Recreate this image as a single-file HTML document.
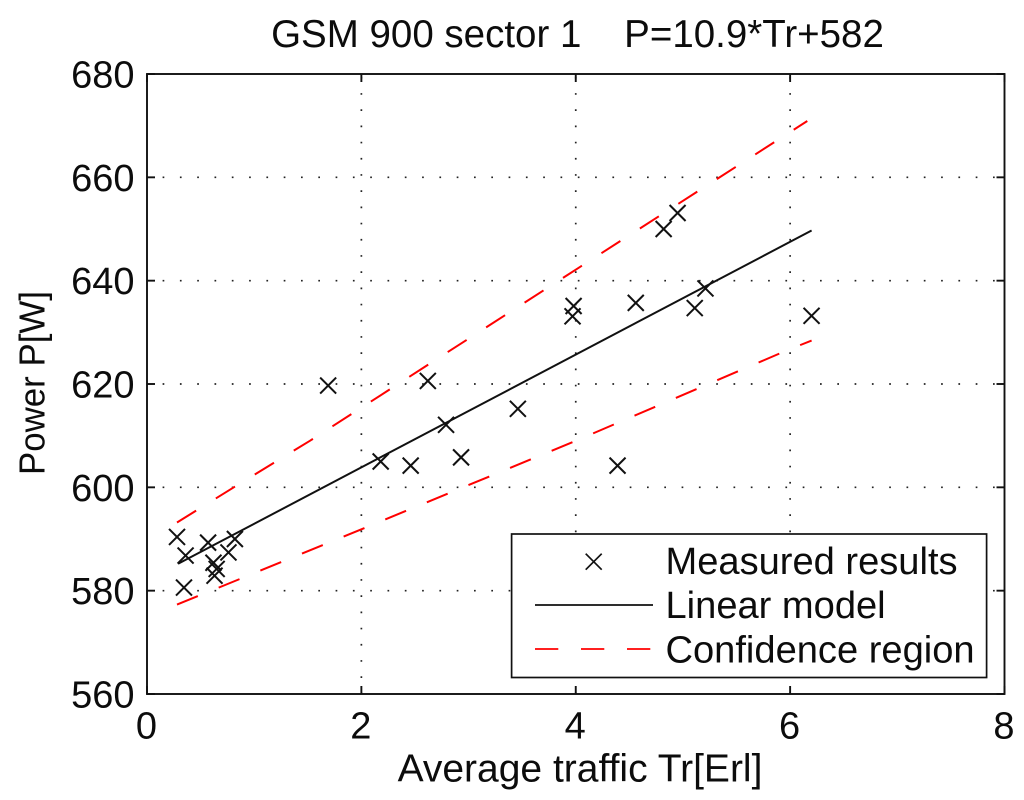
<!DOCTYPE html>
<html lang="en">
<head>
<meta charset="utf-8">
<title>GSM 900 sector 1</title>
<style>
  html, body { margin: 0; padding: 0; background: #fff; }
  svg { display: block; font-family: "Liberation Sans", Arial, sans-serif; }
  text { fill: #0c0c0c; }
</style>
</head>
<body>
<svg id="chart" width="1024" height="800" viewBox="0 0 1024 800" xmlns="http://www.w3.org/2000/svg">
  <rect width="1024" height="800" fill="#fff"/>
  <text x="577.5" y="47" font-size="38.5" text-anchor="middle" xml:space="preserve">GSM 900 sector 1    P=10.9*Tr+582</text>
  <g id="grid"></g>
  <g id="marks"></g>
  <g id="axes"></g>
  <text x="580" y="781.5" font-size="39" text-anchor="middle">Average traffic Tr[Erl]</text>
  <text transform="translate(44.5 383) rotate(-90)" font-size="36.5" text-anchor="middle" textLength="184" lengthAdjust="spacingAndGlyphs">Power P[W]</text>
  <g>
    <rect x="511.6" y="534" width="475" height="143.5" fill="#fff" stroke="#111" stroke-width="1.7"/>
    <g stroke="#111" stroke-width="1.7">
      <line x1="585.7" y1="553.7" x2="601.7" y2="569.7"/>
      <line x1="585.7" y1="569.7" x2="601.7" y2="553.7"/>
    </g>
    <text x="665.5" y="574" font-size="38.1">Measured results</text>
    <line x1="535" y1="605" x2="653" y2="605" stroke="#111" stroke-width="1.7"/>
    <text x="665.5" y="618" font-size="38.1">Linear model</text>
    <line x1="535" y1="649" x2="651" y2="649" stroke="#f00" stroke-width="1.7" stroke-dasharray="23.3 22.7"/>
    <text x="665.5" y="662.3" font-size="38.1">Confidence region</text>
  </g>
</svg>
<script>
const xTicks = [0, 2, 4, 6, 8];
const yTicks = [560, 580, 600, 620, 640, 660, 680];
const measuredTr = [0.28, 0.36, 0.345, 0.57, 0.76, 0.82, 0.62, 0.65, 0.63, 1.69, 2.18, 2.46, 2.62, 2.79, 2.93, 3.46, 3.98, 3.97, 4.56, 4.39, 4.82, 4.95, 5.11, 5.21, 6.2];
const measuredP = [590.4, 586.8, 580.6, 589.3, 587.4, 590, 585.4, 584.2, 582.9, 619.7, 605, 604.2, 620.6, 612.1, 605.8, 615.2, 635.1, 633.1, 635.7, 604.2, 650, 653.1, 634.7, 638.5, 633.2];
const modelTr = [0.29, 6.2];
const modelP = [585.2, 649.7];
const upperTr = [0.28, 0.81, 1.52, 4.02, 6.16];
const upperP = [593.2, 600, 609, 642.4, 670.9];
const lowerTr = [0.28, 0.87, 2.05, 4, 5.98, 6.2];
const lowerP = [577.3, 582.3, 592.3, 609, 626.6, 628.4];

const NS = 'http://www.w3.org/2000/svg';
const left = 147, right = 1004.5, top_ = 74, bottom = 694;
const xScale = v => left + (v - 0) / (8 - 0) * (right - left);
const yScale = v => bottom - (v - 560) / (680 - 560) * (bottom - top_);
const gridG = document.getElementById('grid');
const marksG = document.getElementById('marks');
const axesG = document.getElementById('axes');

function make(tag, attrs, parent) {
  const el = document.createElementNS(NS, tag);
  for (const k in attrs) el.setAttribute(k, attrs[k]);
  parent.appendChild(el);
  return el;
}

xTicks.slice(1, -1).forEach(t => {
  const el = make('line', { x1: xScale(t), y1: bottom, x2: xScale(t), y2: top_, stroke: '#222', 'stroke-width': 1.7, 'stroke-dasharray': '1.7 14.5', 'stroke-dashoffset': -16 }, gridG);
  
  
});
yTicks.slice(1, -1).forEach(t => {
  const el = make('line', { x1: left, y1: yScale(t), x2: right, y2: yScale(t), stroke: '#222', 'stroke-width': 1.7, 'stroke-dasharray': '1.7 15.6', 'stroke-dashoffset': -15.6 }, gridG);
  
  
});

function seriesPoints(xs, ys) {
  return xs.map((x, i) => xScale(x).toFixed(1) + ',' + yScale(ys[i]).toFixed(1)).join(' ');
}

const upperLine = make('polyline', { points: seriesPoints(upperTr, upperP), fill: 'none', stroke: '#f00', 'stroke-width': 2, 'stroke-dasharray': '22.5 23.2' }, marksG);



const lowerLine = make('polyline', { points: seriesPoints(lowerTr, lowerP), fill: 'none', stroke: '#f00', 'stroke-width': 2, 'stroke-dasharray': '22.5 22.5' }, marksG);



const modelLine = make('polyline', { points: seriesPoints(modelTr, modelP), fill: 'none', stroke: '#111', 'stroke-width': 2 }, marksG);



measuredTr.forEach((tr, i) => {
  const cx = xScale(tr), cy = yScale(measuredP[i]), r = 8;
  const g = make('g', { stroke: '#111', 'stroke-width': 2 }, marksG);
  
  
  make('line', { x1: cx - r, y1: cy - r, x2: cx + r, y2: cy + r }, g);
  make('line', { x1: cx - r, y1: cy + r, x2: cx + r, y2: cy - r }, g);
});

const frame = make('rect', { x: left, y: top_, width: right - left, height: bottom - top_, fill: 'none', stroke: '#111', 'stroke-width': 1.9 }, axesG);



xTicks.forEach(t => {
  const x = xScale(t);
  const tickA = make('line', { x1: x, y1: bottom, x2: x, y2: bottom - 8, stroke: '#111', 'stroke-width': 1.9 }, axesG);
  
  
  const tickB = make('line', { x1: x, y1: top_, x2: x, y2: top_ + 8, stroke: '#111', 'stroke-width': 1.9 }, axesG);
  
  
  const label = make('text', { x: x - 0.5, y: 738.5, 'font-size': 38, 'text-anchor': 'middle' }, axesG);
  
  
  label.textContent = t;
});
yTicks.forEach(t => {
  const y = yScale(t);
  const tickA = make('line', { x1: left, y1: y, x2: left + 8, y2: y, stroke: '#111', 'stroke-width': 1.9 }, axesG);
  
  
  const tickB = make('line', { x1: right, y1: y, x2: right - 8, y2: y, stroke: '#111', 'stroke-width': 1.9 }, axesG);
  
  
  const label = make('text', { x: 134.5, y: y + 13.5, 'font-size': 38, 'text-anchor': 'end' }, axesG);
  
  
  label.textContent = t;
});
</script>
</body>
</html>
